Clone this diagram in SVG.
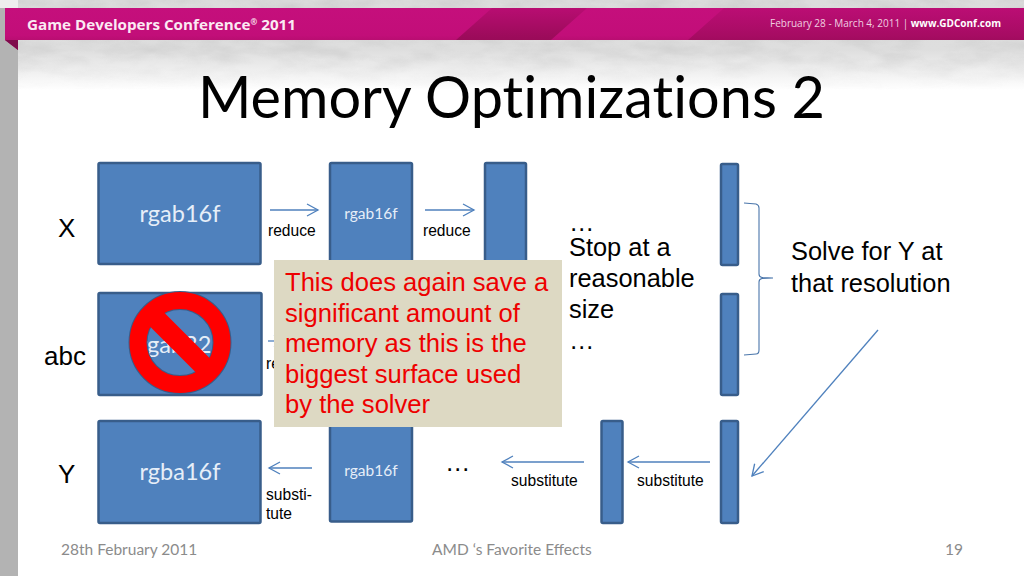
<svg xmlns="http://www.w3.org/2000/svg" width="1024" height="576" viewBox="0 0 1024 576">
<style>
.blk{fill:#4f81bd;stroke:#385d8a;stroke-width:2.5}
.cal{font-family:"Lato","Open Sans",sans-serif;font-variant-ligatures:none}
.ar{font-family:"Liberation Sans",Arial,sans-serif;fill:#000}
.s14{font-size:15.6px}.s24{font-size:25.4px}.s26{font-size:26px}
.big{font-size:23.5px}.sm{font-size:15.5px}
.lbl{fill:#e6eef8;text-anchor:middle}
.red{font-family:"Liberation Sans",Arial,sans-serif;font-size:25.6px;fill:#ee0000}
.foot{font-family:"Lato","Open Sans",sans-serif;font-size:15.5px;fill:#8b8b8b}
.con{fill:none;stroke:#4f81bd;stroke-width:1.3;marker-end:url(#open)}
.line{fill:none;stroke:#4a76ab;stroke-width:1.1}
</style>
<defs>
<marker id="open" markerUnits="userSpaceOnUse" markerWidth="16" markerHeight="16" refX="12" refY="7" orient="auto"><path d="M1 1L12 7L1 13" fill="none" stroke="#4f81bd" stroke-width="1.3"/></marker>
<linearGradient id="fade" x1="0" y1="0" x2="0" y2="1"><stop offset="0" stop-color="#dcdcdc"/><stop offset=".55" stop-color="#dedede"/><stop offset=".8" stop-color="#f0f0f0"/><stop offset="1" stop-color="#fff"/></linearGradient>
<linearGradient id="band" x1="0" y1="0" x2="0" y2="1"><stop offset="0" stop-color="#c50f7c"/><stop offset=".65" stop-color="#c20e79"/><stop offset="1" stop-color="#a50c60"/></linearGradient>
<linearGradient id="rband" x1="0" y1="0" x2="0" y2="1"><stop offset="0" stop-color="#b80d72"/><stop offset="1" stop-color="#990b58"/></linearGradient>
<filter id="cloud" x="0" y="0" width="100%" height="100%"><feTurbulence type="fractalNoise" baseFrequency=".025 .07" numOctaves="4" seed="7"/><feColorMatrix values="0 0 0 0 .45 0 0 0 0 .45 0 0 0 0 .45 .9 0 0 0 -.3"/></filter>
<linearGradient id="mf" x1="0" y1="0" x2="0" y2="1"><stop offset="0" stop-color="#fff"/><stop offset=".6" stop-color="#fff"/><stop offset="1" stop-color="#000"/></linearGradient>
<mask id="cm"><rect x="0" y="0" width="1024" height="90" fill="url(#mf)"/></mask>
</defs>
<rect width="1024" height="576" fill="#fff"/>
<rect x="0" y="0" width="1024" height="90" fill="url(#fade)"/>
<rect x="0" y="0" width="1024" height="90" filter="url(#cloud)" mask="url(#cm)" opacity=".6"/>
<rect x="0" y="0" width="18" height="8" fill="#eeeeee"/>
<rect x="0" y="8" width="18" height="568" fill="#b3b3b3"/>
<g id="banner">
<path d="M5 8H1024V40H18V50L5 40Z" fill="url(#band)"/>
<path d="M5 40H18V50Z" fill="#7f0b4c"/>
<path d="M456 40L492 8H587L551 40Z" fill="url(#rband)"/>
<path d="M688 40L724 8H1024V40Z" fill="url(#rband)" opacity=".75"/>
<text x="27" y="30" font-family="'Open Sans',sans-serif" font-weight="700" font-size="15" fill="#fbeaf3" textLength="269" lengthAdjust="spacingAndGlyphs">Game Developers Conference<tspan font-size="8" dy="-5">®</tspan><tspan dy="5"> 2011</tspan></text>
<text x="770" y="27" font-family="'Open Sans',sans-serif" font-size="10" fill="#f0cfe0" textLength="231" lengthAdjust="spacingAndGlyphs">February 28 - March 4, 2011 | <tspan font-weight="700" fill="#fff">www.GDConf.com</tspan></text>
</g>
<text id="title" class="cal" x="198" y="118" font-size="59" fill="#000" textLength="627" lengthAdjust="spacingAndGlyphs">Memory Optimizations 2</text>
<g id="n-x"><rect class="blk" x="98.500" y="163" width="162" height="101" rx="1.500"/><text class="cal big lbl" x="180" y="222">rgab16f</text></g>
<g id="n-x2"><rect class="blk" x="330" y="163" width="82" height="110" rx="1.500"/><text class="cal sm lbl" x="371" y="219">rgab16f</text></g>
<g id="n-x3"><rect class="blk" x="485" y="163" width="41" height="110" rx="1.500"/></g>
<g id="n-x4"><rect class="blk" x="721" y="164" width="17" height="101" rx="1.500"/></g>
<g id="n-abc"><rect class="blk" x="98.500" y="293" width="163" height="102" rx="1.500"/><text class="cal big lbl" x="175" y="353">rgab32</text></g>
<g id="n-abc2"><rect class="blk" x="721" y="294" width="17" height="101" rx="1.500"/></g>
<g id="n-y"><rect class="blk" x="98.500" y="421" width="162" height="102" rx="1.500"/><text class="cal big lbl" x="180" y="480">rgba16f</text></g>
<g id="n-y2"><rect class="blk" x="330" y="415" width="82" height="106.500" rx="1.500"/><text class="cal sm lbl" x="371" y="476">rgab16f</text></g>
<g id="n-y3"><rect class="blk" x="601.500" y="421" width="21" height="102" rx="1.500"/></g>
<g id="n-y4"><rect class="blk" x="721" y="421" width="17" height="102" rx="1.500"/></g>
<g id="connectors">
<path class="con" d="M270 210H318"/>
<path class="con" d="M425 210H474"/>
<path class="con" d="M268 341H285"/>
<path class="con" d="M312 468H269"/>
<path class="con" d="M584 462H502"/>
<path class="con" d="M710 462H628"/>
<path class="con" d="M878 330L752 476"/>
<path class="line" d="M744 203L756 204Q759 205 759 208V274Q759 277 762 277.500L773 278L762 278.500Q759 279 759 282V350Q759 354 756 354L744 355"/>
</g>
<g id="labels">
<text class="ar s26" x="58" y="237">X</text>
<text class="ar s26" x="44" y="365">abc</text>
<text class="ar s26" x="58" y="483">Y</text>
<text class="ar s14" x="268" y="236">reduce</text>
<text class="ar s14" x="423" y="236">reduce</text>
<text class="ar s14" x="266" y="369">re</text>
<text class="ar s14" x="266" y="500">substi-</text>
<text class="ar s14" x="266" y="519">tute</text>
<text class="ar s24" x="445" y="471">…</text>
<text class="ar s14" x="511" y="486">substitute</text>
<text class="ar s14" x="637" y="486">substitute</text>
<text class="ar s24" x="569" y="231">…</text>
<text class="ar s24" x="569" y="256">Stop at a</text>
<text class="ar s24" x="569" y="287">reasonable</text>
<text class="ar s24" x="569" y="318">size</text>
<text class="ar s24" x="569" y="349">…</text>
<text class="ar s24" x="791" y="260">Solve for Y at</text>
<text class="ar s24" x="791" y="292">that resolution</text>
</g>
<g id="no-sign">
<circle cx="180" cy="342.500" r="42" fill="none" stroke="#385d8a" stroke-width="19"/>
<circle cx="180" cy="342.500" r="42" fill="none" stroke="#f00" stroke-width="17"/>
<path d="M150 312.500L210 372.500" stroke="#f00" stroke-width="20" fill="none"/>
</g>
<g id="note">
<rect x="274" y="260" width="288" height="167" fill="#ddd9c3"/>
<text class="red" x="285" y="291">This does again save a</text>
<text class="red" x="285" y="322">significant amount of</text>
<text class="red" x="285" y="352">memory as this is the</text>
<text class="red" x="285" y="383">biggest surface used</text>
<text class="red" x="285" y="413">by the solver</text>
</g>
<g id="footer">
<text class="foot" x="61" y="555">28th February 2011</text>
<text class="foot" x="432" y="555">AMD ‘s Favorite Effects</text>
<text class="foot" x="945" y="555">19</text>
</g>
</svg>
